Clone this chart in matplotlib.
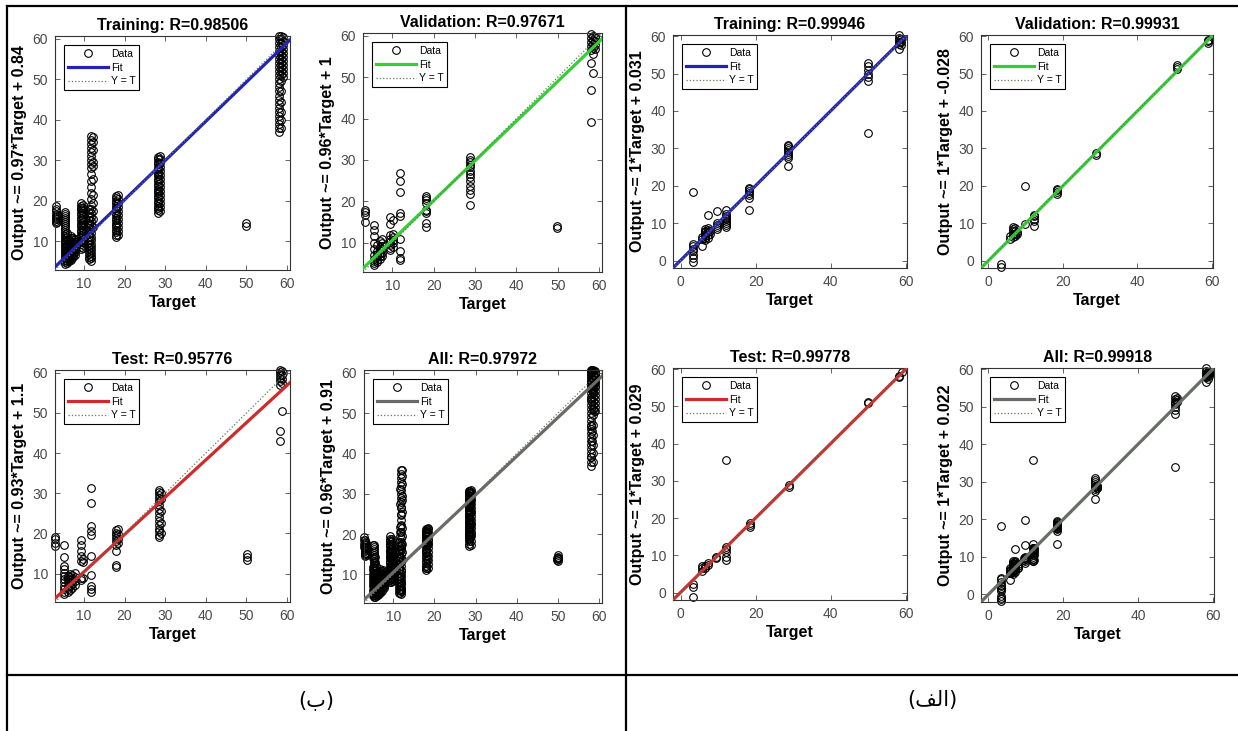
import numpy as np
import matplotlib
matplotlib.use('Agg')
import matplotlib.pyplot as plt
from matplotlib.lines import Line2D

plt.rcParams['font.family'] = ['Liberation Sans', 'DejaVu Sans']

#============================ data: panel (b) ============================
b_train_t = [3.1, 3.5, 5.3, 5.8, 6.3, 6.8, 7.3, 7.8, 9.3, 9.8, 11.3, 11.8, 12.2,
             18.0, 18.5, 28.3, 28.8, 50.0, 58.0, 58.5, 59.0]
b_train_o = [
    [14.6, 15.0, 15.4, 15.8, 16.2, 16.8, 17.4, 18.0, 18.6],
    [14.8, 15.4, 16.0, 16.6],
    [4.3, 4.8, 5.3, 5.8, 6.3, 6.8, 7.3, 7.8, 8.3, 8.8, 9.3, 9.8, 10.3, 10.8, 11.3, 11.8,
     12.3, 12.8, 13.3, 13.8, 14.3, 14.8, 15.3, 15.8, 16.3, 16.8, 17.3],
    [4.6, 5.2, 5.8, 6.4, 7.0, 7.6, 8.2, 8.8, 9.4, 10.2, 11.0, 12.0],
    [5.0, 5.6, 6.2, 6.8, 7.4, 8.0, 8.6, 9.2, 9.8, 10.4],
    [5.3, 5.9, 6.5, 7.1, 7.7, 8.3, 8.9, 9.5, 10.1, 10.7, 11.3],
    [6.0, 6.6, 7.2, 7.8, 8.4, 9.0, 9.6, 10.2, 10.8],
    [6.6, 7.4, 8.2, 9.0, 9.8, 10.6],
    [8.0, 8.6, 9.2, 9.8, 10.4, 11.0, 11.6, 12.2, 12.8, 13.4, 14.0, 14.6, 15.2, 15.8,
     16.4, 17.0, 17.6, 18.2, 18.8, 19.4],
    [8.4, 9.1, 9.8, 10.5, 11.2, 11.9, 12.6, 13.3, 14.0, 14.7, 15.4, 16.1, 16.8, 17.5,
     18.2, 18.9],
    [5.5, 6.2, 6.9, 7.6, 8.3, 9.0, 9.7, 10.4, 11.1, 11.8, 12.5, 13.2, 13.9, 14.6, 15.3,
     16.0, 17.0, 18.0],
    [5.2, 5.8, 6.4, 7.0, 7.8, 8.6, 9.4, 10.2, 11.0, 12.0, 13.0, 14.0, 15.0, 16.0, 17.0,
     18.0, 19.0, 20.5, 22.0, 23.5, 25.0, 26.5, 28.0, 29.0, 30.0, 31.0, 32.0, 33.0, 34.0,
     35.0, 36.0],
    [13.5, 15.5, 17.5, 19.5, 21.5, 25.5, 28.5, 29.5, 32.5, 34.5, 35.8],
    [11.0, 11.6, 12.2, 12.8, 13.4, 14.0, 14.6, 15.2, 15.8, 16.4, 17.0, 17.6, 18.2, 18.8,
     19.4, 20.0, 20.6, 21.2],
    [11.5, 12.5, 13.5, 14.5, 15.5, 16.5, 17.5, 18.5, 19.5, 20.5, 21.5],
    [17.0, 17.6, 18.2, 18.8, 19.4, 20.0, 20.6, 21.2, 21.8, 22.4, 23.0, 23.6, 24.2, 24.8,
     25.4, 26.0, 26.6, 27.2, 27.8, 28.4, 29.0, 29.6, 30.2, 30.8],
    [17.4, 18.4, 19.4, 20.4, 21.4, 22.4, 23.4, 24.4, 25.4, 26.4, 27.4, 28.4, 29.4, 30.4, 31.0],
    [13.8, 14.4],
    [37.0, 38.0, 39.0, 40.0, 41.0, 42.0, 43.0, 44.0, 45.0, 46.0, 47.0, 48.0, 49.0, 50.0,
     51.0, 52.0, 53.0, 54.0, 55.0, 56.0, 57.0, 58.0, 59.0, 60.0, 60.7],
    [38.0, 40.0, 42.0, 44.5, 47.0, 49.5, 51.0, 52.0, 53.0, 54.0, 55.0, 56.0, 57.0, 58.0,
     59.0, 60.0, 60.7],
    [50.5, 51.5, 52.5, 53.5, 54.5, 55.5, 56.5, 57.5, 58.5, 59.5, 60.5],
]

b_val_t = [3.3, 5.6, 6.3, 6.9, 7.5, 9.5, 10.2, 11.8, 18.2, 28.7, 49.8, 58.0, 58.6, 59.0]
b_val_o = [
    [15.0, 16.8, 17.4, 17.9],
    [4.5, 5.0, 5.5, 6.0, 7.0, 8.5, 10.0, 11.5, 13.0, 14.3],
    [5.2, 5.8, 6.5, 7.2, 8.0, 9.5],
    [6.0, 6.8, 7.5, 8.2, 9.0, 10.5],
    [6.8, 7.6, 8.4, 9.2, 10.0, 11.0],
    [8.2, 8.8, 9.5, 10.2, 11.0, 11.8, 14.5, 16.2],
    [9.0, 9.8, 10.6, 11.4, 12.0, 15.5],
    [5.8, 6.3, 7.9, 10.9, 16.5, 17.2, 22.3, 24.8, 26.8],
    [13.7, 14.8, 17.2, 17.6, 18.0, 19.5, 20.2, 20.8, 21.2],
    [19.0, 21.8, 22.8, 23.8, 25.0, 25.8, 26.6, 27.4, 28.2, 28.8, 29.5, 30.1, 30.6],
    [13.5, 14.1],
    [39.1, 46.9, 53.4, 56.5, 57.5, 58.5, 59.5, 60.5],
    [51.0, 55.6, 57.0, 58.0, 59.0, 60.0],
    [56.8, 57.8, 58.8, 59.8],
]

b_test_t = [3.0, 5.2, 6.0, 6.6, 7.2, 7.7, 9.2, 9.7, 11.7, 17.9, 18.4, 28.4, 28.9, 50.1,
            58.2, 58.8]
b_test_o = [
    [16.8, 17.6, 18.5, 19.2],
    [4.9, 5.5, 6.2, 7.0, 7.8, 8.6, 9.4, 10.2, 11.0, 11.9, 14.0, 17.2],
    [5.5, 6.2, 7.0, 7.8, 8.6, 9.4],
    [6.0, 6.8, 7.6, 8.4, 9.2, 10.0],
    [6.5, 7.3, 8.1, 8.9, 9.7],
    [7.2, 8.2, 9.2, 10.2],
    [8.5, 9.0, 13.1, 14.4, 15.6, 17.2, 18.4],
    [8.8, 12.8, 13.5],
    [5.3, 6.1, 7.0, 9.6, 14.4, 19.5, 20.5, 21.8, 27.5, 31.2],
    [11.6, 12.2, 15.5, 17.2, 18.0, 18.8, 19.5, 20.2, 20.8],
    [17.6, 18.6, 19.8, 21.2],
    [19.0, 19.7, 20.5, 21.2, 22.0, 23.0, 24.0, 25.0, 26.0, 27.0, 28.0, 28.8, 29.5, 30.2, 30.8],
    [20.0, 22.5, 25.5, 28.5, 30.0],
    [13.4, 14.0, 14.8],
    [43.1, 45.6, 57.0, 58.0, 58.8, 59.5, 60.2, 60.7],
    [50.5, 57.5, 58.5, 59.5, 60.5],
]

b_slope = [0.97, 0.96, 0.93, 0.96]
b_icpt = [0.84, 1, 1.1, 0.91]
b_r = ['0.98506', '0.97671', '0.95776', '0.97972']

#============================ data: panel (a) ============================
a_train_t = [3.3, 5.7, 6.5, 7.2, 7.8, 9.7, 12.0, 18.3, 28.6, 49.8, 58.2, 58.8]
a_train_o = [
    [-0.4, 0.8, 1.5, 2.5, 3.2, 4.0, 4.5, 18.2],
    [3.8, 5.8, 6.2],
    [5.5, 6.0, 6.5, 7.0, 7.5, 8.0, 8.5],
    [6.0, 6.8, 7.5, 8.2, 8.8, 12.2],
    [7.0, 8.0],
    [8.5, 9.0, 9.5, 10.0, 13.2],
    [9.0, 9.5, 10.0, 10.5, 11.0, 11.5, 12.0, 12.5, 13.5],
    [13.5, 16.8, 17.5, 18.0, 18.5, 19.0, 19.5],
    [25.4, 27.5, 28.0, 28.5, 29.0, 29.5, 30.0, 30.5, 31.0],
    [34.0, 48.0, 49.0, 50.0, 51.0, 52.0, 52.8],
    [56.5, 58.0, 58.5, 59.0, 59.5, 60.2],
    [57.5, 58.5, 59.3],
]

a_val_t = [3.3, 5.8, 6.5, 7.2, 7.8, 9.8, 12.1, 18.4, 29.0, 50.5, 59.0]
a_val_o = [
    [-1.8, -0.9],
    [5.8, 6.5],
    [6.2, 7.0, 7.8, 8.5, 9.0],
    [6.5, 7.2, 8.0, 8.6],
    [7.0, 7.5],
    [9.7, 19.8],
    [9.3, 10.5, 11.2, 11.8, 12.3],
    [17.8, 18.3, 18.8, 19.2],
    [28.3, 28.8],
    [51.3, 51.8, 52.2],
    [58.2, 58.8, 59.0],
]

a_test_t = [3.3, 5.7, 6.5, 7.2, 9.5, 12.0, 18.4, 28.9, 50.0, 58.2, 59.0]
a_test_o = [
    [-1.2, 1.6, 2.2],
    [5.8, 6.5, 7.0],
    [6.5, 7.0],
    [7.5, 8.0],
    [9.3, 9.6],
    [8.8, 9.5, 11.0, 11.8, 12.3, 35.7],
    [17.6, 18.2, 18.6],
    [28.3, 28.8],
    [50.8, 51.2],
    [57.8, 58.2],
    [59.2],
]

a_slope = [1, 1, 1, 1]
a_icpt = [0.031, -0.028, 0.029, 0.022]
a_r = ['0.99946', '0.99931', '0.99778', '0.99918']

names = ['Training', 'Validation', 'Test', 'All']
fit_colors = ['#2222b4', '#35cf35', '#d02a2a', '#6a6a6a']

#============================ figure ===========================================
W, H = 1238, 731
fig = plt.figure(figsize=(W / 100, H / 100), dpi=100)


def px_axes(l, t, r, b):
    return fig.add_axes([l / W, 1 - b / H, (r - l) / W, (b - t) / H])


def flatten(targets, outputs):
    xs, ys = [], []
    for t, outs in zip(targets, outputs):
        for o in outs:
            xs.append(t)
            ys.append(o)
    return np.array(xs), np.array(ys)


def regression_plot(ax, xs, ys, m, c, color, title, lim, ticks):
    ax.plot(xs, ys, 'o', ms=5.5, mfc='none', mec='black', mew=0.8,
            clip_on=False, zorder=2, label='Data')
    ends = np.array(lim)
    ax.plot(ends, m * ends + c, '-', color=color, lw=2.3, zorder=3, label='Fit')
    ax.plot(ends, ends, ':', color='#5c7c5c', lw=0.9, zorder=4, label='Y = T')
    ax.set_xlim(lim)
    ax.set_ylim(lim)
    ax.set_xticks(ticks)
    ax.set_yticks(np.arange(0, 61, 10)[np.arange(0, 61, 10) >= lim[0]])
    ax.tick_params(direction='in', length=3.5, width=0.6, colors='#4a4a4a',
                   labelsize=10, top=True, right=True, pad=5)
    for s in ax.spines.values():
        s.set_color('#333333')
        s.set_linewidth(0.8)
    ax.set_title(title, fontsize=11.5, fontweight='bold', pad=4)
    ax.set_xlabel('Target', fontsize=11.5, fontweight='bold', labelpad=3)
    ax.set_ylabel('Output ~= %g*Target + %g' % (m, c), fontsize=11.5,
                  fontweight='bold', labelpad=4)
    leg = ax.legend(loc='upper left', fontsize=7.5, frameon=True, fancybox=False,
                    edgecolor='black', framealpha=1, borderpad=0.35,
                    labelspacing=0.35, handlelength=3.8, handletextpad=0.3,
                    borderaxespad=0.9)
    leg.get_frame().set_linewidth(0.8)


# panel (b)
b_sets = [flatten(b_train_t, b_train_o), flatten(b_val_t, b_val_o),
          flatten(b_test_t, b_test_o)]
b_sets.append((np.concatenate([s[0] for s in b_sets]),
               np.concatenate([s[1] for s in b_sets])))
b_boxes = [(55, 36, 290, 270), (363, 33, 602, 272), (55, 370, 290, 602), (364, 370, 602, 603)]
for i in range(4):
    ax = px_axes(*b_boxes[i])
    regression_plot(ax, b_sets[i][0], b_sets[i][1], b_slope[i], b_icpt[i], fit_colors[i],
                    '%s: R=%s' % (names[i], b_r[i]), (2.9, 60.7), [10, 20, 30, 40, 50, 60])

# panel (a)
a_sets = [flatten(a_train_t, a_train_o), flatten(a_val_t, a_val_o),
          flatten(a_test_t, a_test_o)]
a_sets.append((np.concatenate([s[0] for s in a_sets]),
               np.concatenate([s[1] for s in a_sets])))
a_boxes = [(673, 35, 907, 268), (981, 35, 1213, 268), (673, 368, 907, 600), (981, 368, 1214, 602)]
for i in range(4):
    ax = px_axes(*a_boxes[i])
    regression_plot(ax, a_sets[i][0], a_sets[i][1], a_slope[i], a_icpt[i], fit_colors[i],
                    '%s: R=%s' % (names[i], a_r[i]), (-2.0, 60.3), [0, 20, 40, 60])


# table rules
def rule(x0, y0, x1, y1):
    fig.add_artist(Line2D([x0 / W, x1 / W], [1 - y0 / H, 1 - y1 / H],
                          transform=fig.transFigure, color='black', lw=1.6))


rule(7, 6, W, 6)
rule(7, 6, 7, H)
rule(626, 6, 626, H)
rule(7, 675, W, 675)

# captions (Arabic letters written in display order)
fig.text(316 / W, 1 - 700 / H, '(\u0628)', ha='center', va='center', fontsize=15,
         family=['DejaVu Sans'])
fig.text(932 / W, 1 - 700 / H, '(\uFED2\uFEDF\uFE8D)', ha='center', va='center',
         fontsize=15, family=['DejaVu Sans'])

fig.savefig('out.png', dpi=100)
